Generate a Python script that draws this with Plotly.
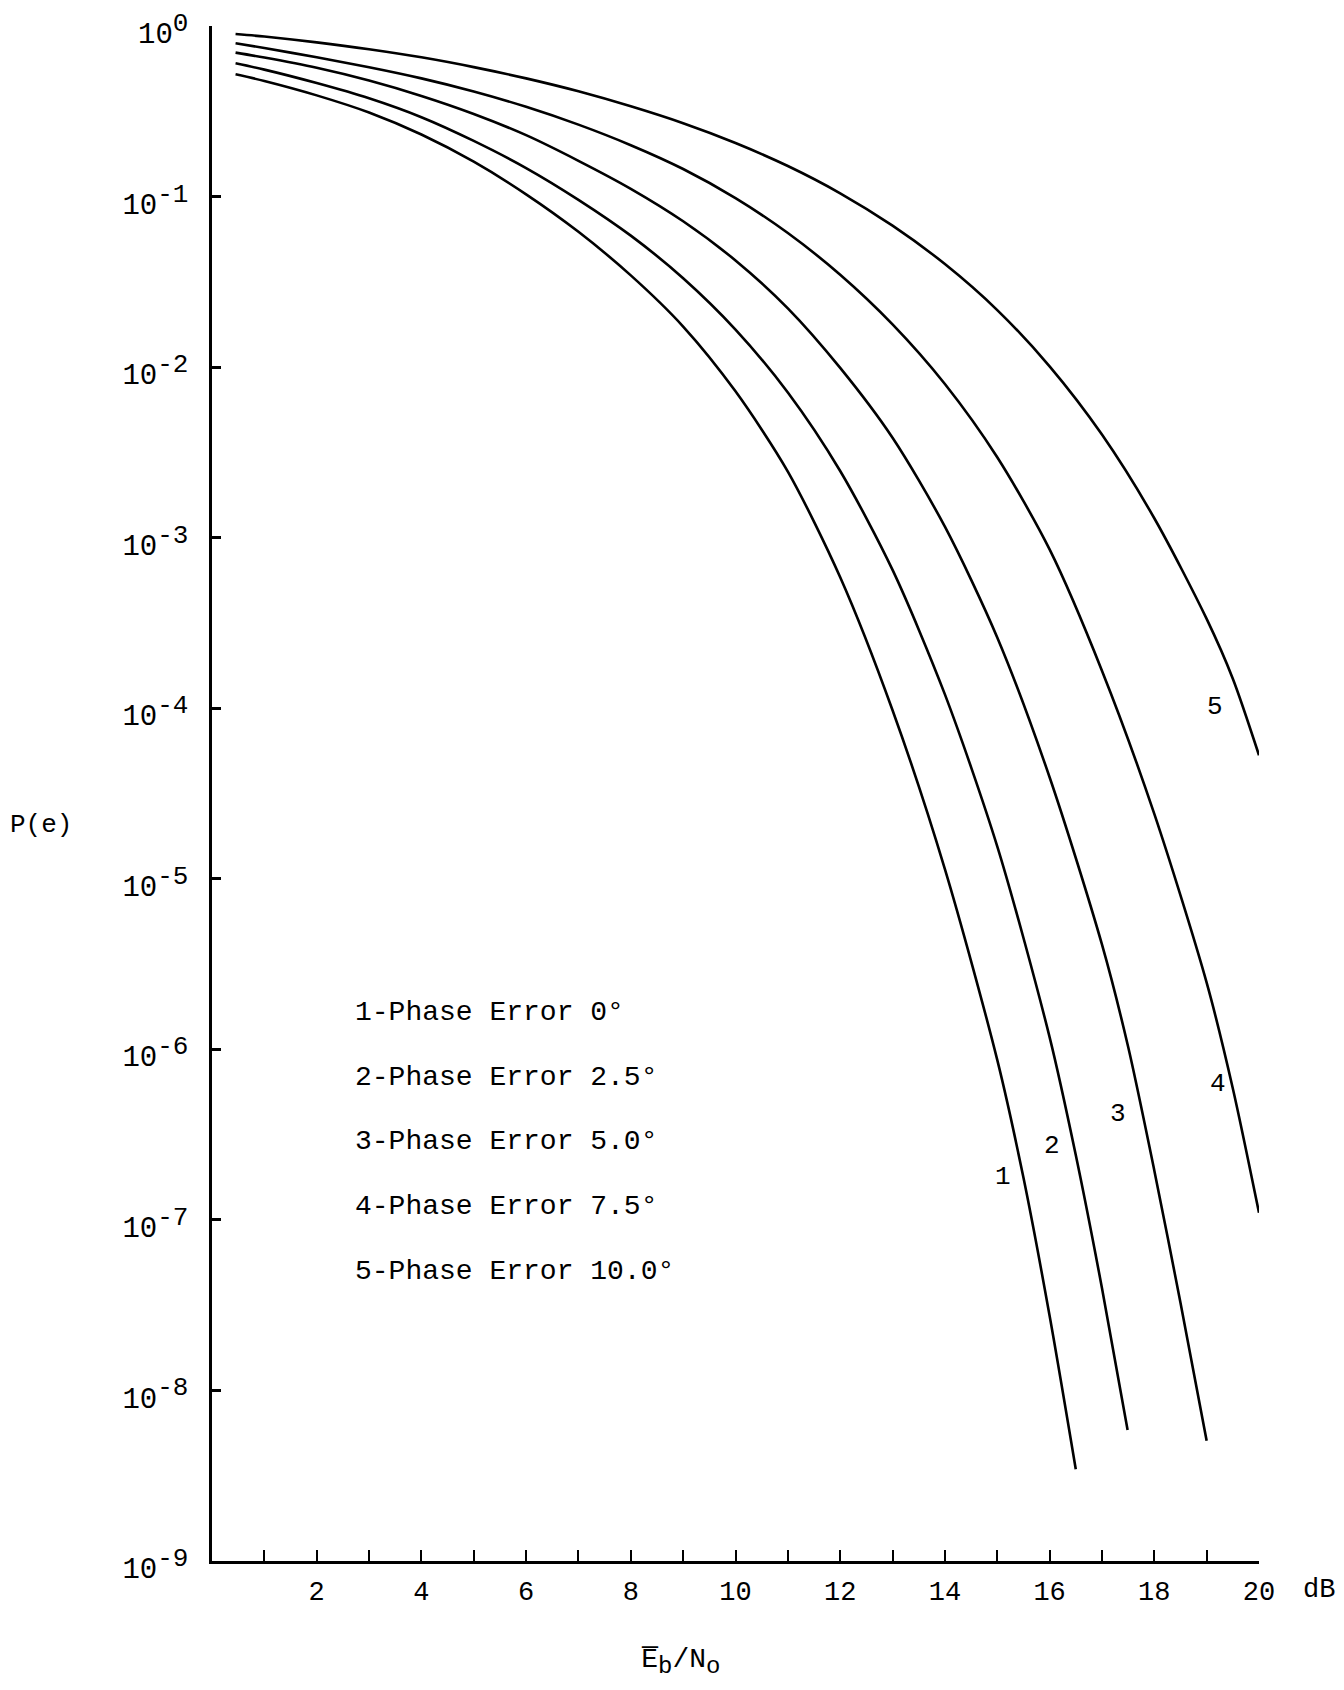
import math
import plotly.graph_objects as go

# ---- data (Eb/No in dB, P(e)) ----
x1 = [0.45, 1, 2, 3, 4, 5, 6, 7, 8, 9, 10, 11, 12, 13, 14, 15, 15.5, 16, 16.5]
p1 = [0.521, 0.476, 0.392, 0.311, 0.231, 0.160, 0.103, 0.0621, 0.0345, 0.0173, 7.21e-3,
      2.44e-3, 5.86e-4, 9.73e-5, 1.14e-5, 8.67e-7, 1.77e-7, 2.74e-8, 3.45e-9]

x2 = [0.45, 1, 2, 3, 4, 5, 6, 7, 8, 9, 10, 11, 12, 13, 14, 15, 16, 16.5, 17, 17.49]
p2 = [0.604, 0.555, 0.463, 0.377, 0.292, 0.212, 0.147, 0.0957, 0.0590, 0.0332, 0.0166,
      7.10e-3, 2.46e-3, 6.47e-4, 1.205e-4, 1.55e-5, 1.18e-6, 2.40e-7, 3.99e-8, 5.86e-9]

x3 = [0.45, 1, 2, 3, 4, 5, 6, 7, 8, 9, 10, 11, 12, 13, 14, 15, 16, 17, 17.5, 18, 18.5, 19]
p3 = [0.698, 0.653, 0.569, 0.479, 0.389, 0.305, 0.229, 0.162, 0.111, 0.0716, 0.0422,
      0.0221, 9.89e-3, 3.85e-3, 1.16e-3, 2.60e-4, 3.94e-5, 4.12e-6, 1.035e-6, 1.95e-7,
      3.27e-8, 5.07e-9]

x4 = [0.45, 1, 2, 3, 4, 5, 6, 7, 8, 9, 10, 11, 12, 13, 14, 15, 16, 17, 18, 19, 19.5, 20]
p4 = [0.792, 0.743, 0.655, 0.573, 0.493, 0.413, 0.336, 0.264, 0.200, 0.145, 0.0979,
      0.0611, 0.0348, 0.0178, 7.96e-3, 2.96e-3, 8.53e-4, 1.66e-4, 2.40e-5, 2.46e-6,
      5.90e-7, 1.10e-7]

x5 = [0.45, 1, 2, 3, 4, 5, 6, 7, 8, 9, 10, 11, 12, 13, 14, 15, 16, 17, 18, 19, 19.5, 20]
p5 = [0.897, 0.867, 0.802, 0.731, 0.655, 0.574, 0.493, 0.414, 0.338, 0.269, 0.206,
      0.151, 0.1045, 0.0675, 0.0402, 0.0216, 0.0101, 4.02e-3, 1.30e-3, 3.34e-4,
      1.49e-4, 5.30e-5]

curve_names = ["1", "2", "3", "4", "5"]
# curve number label positions (dB, P(e))
label_x = [15.11, 16.05, 17.31, 19.22, 19.16]
label_p = [1.78e-7, 2.7e-7, 4.2e-7, 6.3e-7, 1.02e-4]

legend_labels = ["1-Phase Error 0°", "2-Phase Error 2.5°", "3-Phase Error 5.0°",
                 "4-Phase Error 7.5°", "5-Phase Error 10.0°"]
legend_p = [1.64e-6, 6.8e-7, 2.9e-7, 1.2e-7, 5.0e-8]
legend_x = 2.69

y_exponents = ["0", "-1", "-2", "-3", "-4", "-5", "-6", "-7", "-8", "-9"]
y_tickvals = [10.0 ** int(e) for e in y_exponents]
y_ticktext = ["10<sup><span style='font-size:26px'>%s</span></sup>" % e for e in y_exponents]
x_tickvals = list(range(1, 21))
x_ticktext = ["" if v % 2 else str(v) for v in x_tickvals]

FONT = "Liberation Mono, Courier New, monospace"
TXT = dict(family=FONT, size=27, color="black")

fig = go.Figure()
for xs, ps, nm in zip([x1, x2, x3, x4, x5], [p1, p2, p3, p4, p5], curve_names):
    fig.add_trace(go.Scatter(x=xs, y=ps, mode="lines", name=nm,
                             line=dict(color="black", width=2.6, shape="spline", smoothing=0.8),
                             showlegend=False, hoverinfo="skip"))

annotations = []
for lx, lp, nm in zip(label_x, label_p, curve_names):
    annotations.append(dict(x=lx, y=math.log10(lp), xref="x", yref="y", text=nm,
                            xanchor="center", yanchor="middle",
                            showarrow=False, font=dict(family=FONT, size=26, color="black")))
for lp, txt in zip(legend_p, legend_labels):
    annotations.append(dict(x=legend_x, y=math.log10(lp), xref="x", yref="y", text=txt,
                            xanchor="left", yanchor="middle", showarrow=False,
                            font=dict(family=FONT, size=28, color="black")))
annotations.append(dict(x=1.057, y=-0.0189, xref="paper", yref="paper", text="dB",
                        xanchor="center", yanchor="middle", showarrow=False, font=TXT))
annotations.append(dict(x=0.447, y=-0.066, xref="paper", yref="paper",
                        text="E\u0305<sub><span style='font-size:24px'>b</span></sub>/N"
                             "<sub><span style='font-size:24px'>o</span></sub>",
                        xanchor="center", yanchor="middle", showarrow=False,
                        font=dict(family=FONT, size=28, color="black")))
annotations.append(dict(x=-0.163, y=0.4795, xref="paper", yref="paper", text="P(e)",
                        xanchor="center", yanchor="middle", showarrow=False,
                        font=dict(family=FONT, size=26, color="black")))

fig.update_layout(
    width=1328, height=1674,
    margin=dict(l=204, r=77, t=18, b=121, autoexpand=False),
    paper_bgcolor="white", plot_bgcolor="white",
    annotations=annotations,
    xaxis=dict(range=[0, 20], showgrid=False, zeroline=False, showline=True,
               linecolor="black", linewidth=2.5, ticks="inside", ticklen=11,
               tickwidth=2, tickcolor="black", tickvals=x_tickvals, ticktext=x_ticktext,
               tickfont=TXT, ticklabelstandoff=4, ticklabeloverflow="allow",
               automargin=False),
    yaxis=dict(type="log", range=[-9, 0], showgrid=False, zeroline=False, showline=True,
               linecolor="black", linewidth=2.5, ticks="inside", ticklen=9,
               tickwidth=2.5, tickcolor="black", tickvals=y_tickvals, ticktext=y_ticktext,
               tickfont=dict(family=FONT, size=29, color="black"), ticklabelstandoff=15,
               ticklabelshift=7, ticklabeloverflow="allow", automargin=False),
)

fig.write_html("out.html")
